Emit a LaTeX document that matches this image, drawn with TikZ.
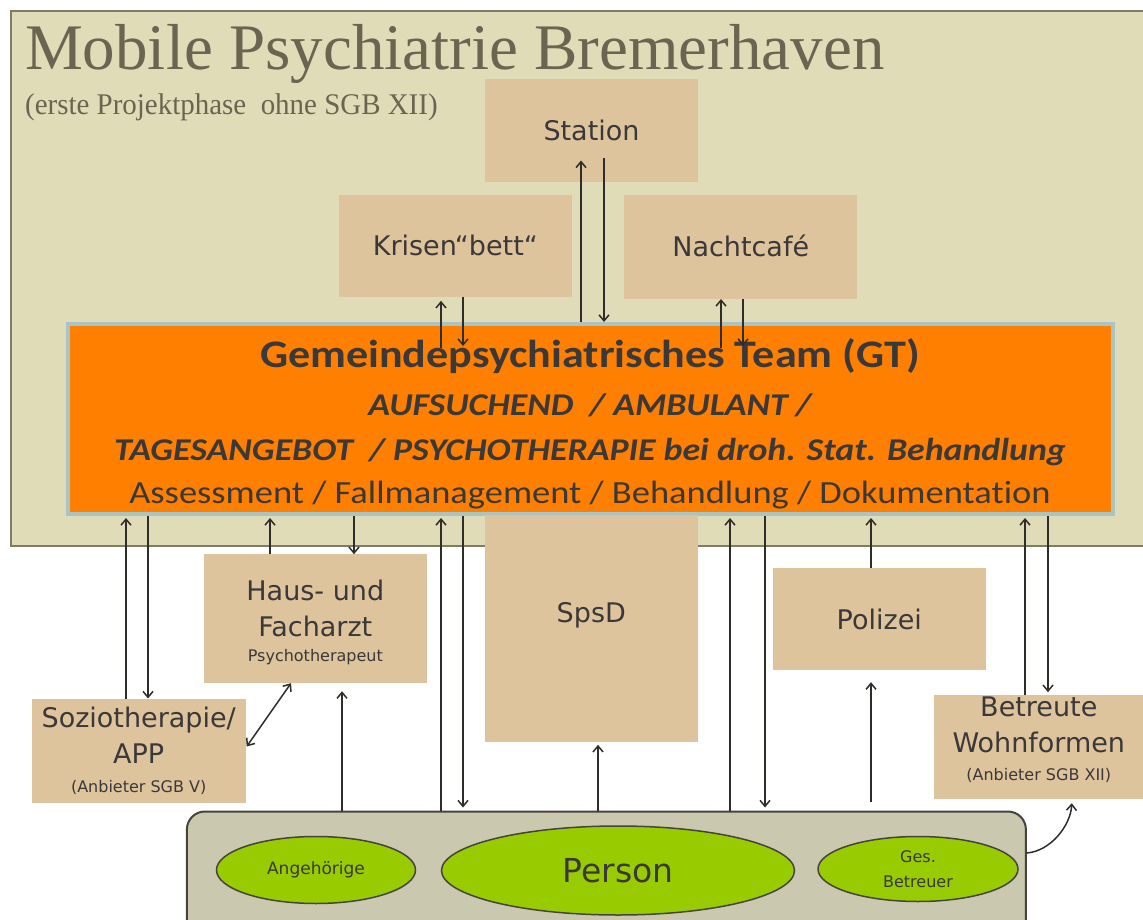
\documentclass[tikz,border=0pt]{standalone}
\usepackage{fontspec}
\usetikzlibrary{arrows.meta,shapes.geometric,calc}
\setmainfont{Liberation Serif}
\newfontfamily\headfont{Liberation Serif}
\newfontfamily\subheadfont[FakeStretch=0.965]{Liberation Serif}
\newfontfamily\labelfont{DejaVu Sans}
\newfontfamily\teamfont[FakeStretch=1.13,Ligatures=NoCommon]{Carlito}
\newfontfamily\teamitfont[Ligatures=NoCommon]{Carlito}
\newcommand\finetext{\fontsize{16}{20}\selectfont}

\definecolor{panel}{HTML}{E0DCB8}
\definecolor{panelline}{HTML}{7E7C68}
\definecolor{sand}{HTML}{DEC49C}
\definecolor{teamorange}{HTML}{FF8000}
\definecolor{teamedge}{HTML}{A8C4C4}
\definecolor{basefill}{HTML}{CBC8B0}
\definecolor{baseedge}{HTML}{45443C}
\definecolor{leaf}{HTML}{99CC00}
\definecolor{ink}{HTML}{3A3838}
\definecolor{headink}{HTML}{6B6450}
\definecolor{wire}{HTML}{2F2D28}

\begin{document}
\begin{tikzpicture}[x=1pt,y=-1pt,
  sandbox/.style={rectangle, fill=sand, draw=none, inner sep=0pt, outer sep=0pt,
    text=ink, font=\labelfont\fontsize{27}{36}\selectfont,
    text height=19.7pt, text depth=0pt},
  boxtext/.style={inner sep=0pt, outer sep=0pt, text=ink, align=center,
    font=\labelfont\fontsize{27}{36}\selectfont},
  blob/.style={ellipse, fill=leaf, draw=baseedge, line width=1.5pt, inner sep=0pt, text=ink},
  teamline/.style={anchor=base, inner sep=0pt, text=ink},
  link/.style={draw=wire, line width=1.5pt, -{Straight Barb[length=6pt,width=10pt]}},
  duplex/.style={draw=wire, line width=1.5pt,
    {Straight Barb[length=6pt,width=10pt]}-{Straight Barb[length=6pt,width=10pt]}},
]
\clip (0,0) rectangle (1143,920);
\fill[white] (0,0) rectangle (1143,920);

% project panel with heading
\node[rectangle, fill=panel, draw=panelline, line width=2pt, inner sep=0pt, outer sep=0pt,
      minimum width=1160pt, minimum height=535pt, anchor=north west] (panel) at (11,11) {};
\node[anchor=base west, inner sep=0pt, text=headink,
      font=\headfont\fontsize{65}{70}\selectfont] (title) at (25,70) {Mobile Psychiatrie Bremerhaven};
\node[anchor=base west, inner sep=0pt, text=headink,
      font=\subheadfont\fontsize{30}{34}\selectfont] (subtitle) at (25,115) {(erste Projektphase\ \ ohne SGB XII)};

% inpatient and crisis services
\node[sandbox, minimum width=213pt, minimum height=103pt] (station) at (591.5,131) {Station};
\node[sandbox, minimum width=233pt, minimum height=102pt] (krisen) at (455.3,245.8) {Krisen“bett“};
\node[sandbox, minimum width=233pt, minimum height=104pt] (nacht) at (740.7,247) {Nachtcafé};

% community psychiatric team
\node[rectangle, fill=teamorange, draw=teamedge, line width=4pt, inner sep=0pt,
      minimum width=1045pt, minimum height=190pt] (gt) at (590,419) {};
\node[teamline, font=\teamfont\bfseries\fontsize{39}{44}\selectfont] (gtname)
  at ($(gt.north)+(0,45)$) {Gemeindepsychiatrisches Team (GT)};
\node[teamline, font=\teamfont\bfseries\itshape\fontsize{31.7}{38}\selectfont] (gtmode)
  at ($(gt.north)+(0,93)$) {AUFSUCHEND\ \ / AMBULANT /};
\node[teamline, font=\teamfont\bfseries\itshape\fontsize{31.7}{38}\selectfont] (gtoffer)
  at ($(gt.north)+(0,138)$) {TAGESANGEBOT\ \ / PSYCHOTHERAPIE bei droh. Stat. Behandlung};
\node[teamline, font=\teamfont\fontsize{32.3}{38}\selectfont] (gttasks)
  at ($(gt.north)+(0,181)$) {Assessment / Fallmanagement / Behandlung / Dokumentation};

% partners outside the project
\node[sandbox, minimum width=223pt, minimum height=129pt] (haus) at (315.3,618.7) {};
\node[boxtext, anchor=north] (haustext) at ($(haus.north)+(0,25.5)$)
  {Haus- und\\Facharzt\\[-11pt]{\finetext Psychotherapeut}};
\node[sandbox, minimum width=214pt, minimum height=104pt] (sozio) at (138.7,750.5) {};
\node[boxtext, anchor=north] (soziotext) at ($(sozio.north)+(0,8.5)$)
  {Soziotherapie/\\APP\\[-7pt]{\finetext(Anbieter SGB V)}};
\node[sandbox, minimum width=213pt, minimum height=227pt, text depth=32pt] (spsd) at (591.3,628.3) {SpsD};
\node[sandbox, minimum width=213pt, minimum height=102pt] (polizei) at (879.3,619.2) {Polizei};
\node[sandbox, minimum width=209pt, minimum height=104pt] (betreute) at (1038.8,747.2) {};
\node[boxtext, anchor=north] (betreutetext) at ($(betreute.north)+(0,2)$)
  {Betreute\\Wohnformen\\[-8pt]{\finetext(Anbieter SGB XII)}};

% the person and its social environment
\node[rectangle, rounded corners=18pt, fill=basefill, draw=baseedge, line width=2pt, inner sep=0pt,
      minimum width=839pt, minimum height=137pt] (bot) at (606.4,880) {};
\node[blob, minimum width=199pt, minimum height=67pt, font=\labelfont\fontsize{17}{20}\selectfont] (kin) at (316,870) {Angehörige};
\node[blob, minimum width=353pt, minimum height=89pt, font=\labelfont\fontsize{33}{36}\selectfont] (person) at (618,870.5) {Person};
\node[blob, minimum width=200pt, minimum height=65pt, align=center, font=\labelfont\fontsize{16}{25}\selectfont] (carer) at (918,869) {Ges.\\Betreuer};

% arrow columns
\foreach \c in {126,148,270,291,342,354,441,463,581,598,604,721,730,743,765,871,1025,1048}
  \coordinate (k\c) at (\c,0);

% links above the team
\draw[link] (gt.north -| k581) -- ($(station.south -| k581)+(0,-22)$);
\draw[link] ($(station.south -| k604)+(0,-24)$) -- (gt.north -| k604);
\draw[link] ($(gt.north -| k441)+(0,26)$) -- ($(krisen.south -| k441)+(0,4)$);
\draw[link] (krisen.south -| k463) -- ($(gt.north -| k463)+(0,24)$);
\draw[link] ($(gt.north -| k721)+(0,26)$) -- (nacht.south -| k721);
\draw[link] (nacht.south -| k743) -- ($(gt.north -| k743)+(0,24)$);

% links below the team
\draw[link, shorten >=2pt] (sozio.north -| k126) -- (gt.south -| k126);
\draw[link] (gt.south -| k148) -- (sozio.north -| k148);
\draw[link, shorten >=2pt] (haus.north -| k270) -- (gt.south -| k270);
\draw[link] (gt.south -| k354) -- (haus.north -| k354);
\draw[link, shorten >=2pt] (bot.north -| k441) -- (gt.south -| k441);
\draw[link, shorten >=3pt] (gt.south -| k463) -- (bot.north -| k463);
\draw[link, shorten >=2pt] (bot.north -| k730) -- (gt.south -| k730);
\draw[link, shorten >=3pt] (gt.south -| k765) -- (bot.north -| k765);
\draw[link, shorten >=2pt] (polizei.north -| k871) -- (gt.south -| k871);
\draw[link, shorten >=2pt] (betreute.north -| k1025) -- (gt.south -| k1025);
\draw[link, shorten >=3pt] (gt.south -| k1048) -- (betreute.north -| k1048);

% links from the person
\draw[link, shorten >=8pt] (bot.north -| k342) -- (haus.south -| k342);
\draw[link, shorten >=3pt] (bot.north -| k598) -- (spsd.south -| k598);
\draw[link, shorten <=9pt, shorten >=12pt] (bot.north -| k871) -- (polizei.south -| k871);
\draw[duplex] ($(sozio.east)+(1,-4)$) -- (haus.south -| k291);
\draw[link] ($(bot.east)+(0,-27)$) .. controls ($(bot.east)+(24,-29)$) and ($(betreute.south)+(32,26)$) .. ($(betreute.south)+(33,4)$);
\end{tikzpicture}
\end{document}
